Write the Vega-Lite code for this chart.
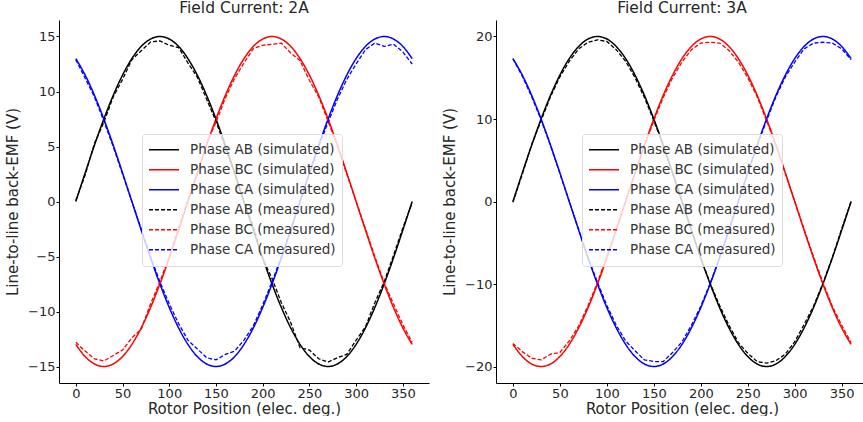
{
  "$schema": "https://vega.github.io/schema/vega-lite/v6.json",
  "padding": {"left": 5, "top": 0, "right": 0, "bottom": 0},
  "spacing": 13,
  "datasets": {
    "lab": [
      {"k": "ab", "label": "Phase AB (simulated)"},
      {"k": "bc", "label": "Phase BC (simulated)"},
      {"k": "ca", "label": "Phase CA (simulated)"},
      {"k": "abm", "label": "Phase AB (measured)"},
      {"k": "bcm", "label": "Phase BC (measured)"},
      {"k": "cam", "label": "Phase CA (measured)"}
    ],
    "a2": [
      {"t": 0, "ab": 0, "bc": -12.99, "ca": 12.99, "abm": 0.1, "bcm": -12.8, "cam": 12.9},
      {"t": 10, "ab": 2.6, "bc": -14.1, "ca": 11.49, "abm": 2.4, "bcm": -13.6, "cam": 11.2},
      {"t": 20, "ab": 5.13, "bc": -14.77, "ca": 9.64, "abm": 5.3, "bcm": -14.3, "cam": 9.5},
      {"t": 30, "ab": 7.5, "bc": -15, "ca": 7.5, "abm": 7.2, "bcm": -14.5, "cam": 7.3},
      {"t": 40, "ab": 9.64, "bc": -14.77, "ca": 5.13, "abm": 9.5, "bcm": -14.0, "cam": 5.0},
      {"t": 50, "ab": 11.49, "bc": -14.1, "ca": 2.6, "abm": 11.1, "bcm": -13.5, "cam": 2.5},
      {"t": 60, "ab": 12.99, "bc": -12.99, "ca": 0, "abm": 12.9, "bcm": -12.4, "cam": 0},
      {"t": 70, "ab": 14.1, "bc": -11.49, "ca": -2.6, "abm": 13.7, "bcm": -11.6, "cam": -2.5},
      {"t": 80, "ab": 14.77, "bc": -9.64, "ca": -5.13, "abm": 14.5, "bcm": -9.3, "cam": -5.0},
      {"t": 90, "ab": 15, "bc": -7.5, "ca": -7.5, "abm": 14.6, "bcm": -7.3, "cam": -7.3},
      {"t": 100, "ab": 14.77, "bc": -5.13, "ca": -9.64, "abm": 14.2, "bcm": -5.0, "cam": -9.3},
      {"t": 110, "ab": 14.1, "bc": -2.6, "ca": -11.49, "abm": 14.0, "bcm": -2.4, "cam": -11.1},
      {"t": 120, "ab": 12.99, "bc": 0, "ca": -12.99, "abm": 12.6, "bcm": 0.2, "cam": -12.6},
      {"t": 130, "ab": 11.49, "bc": 2.6, "ca": -14.1, "abm": 11.3, "bcm": 2.4, "cam": -13.4},
      {"t": 140, "ab": 9.64, "bc": 5.13, "ca": -14.77, "abm": 9.3, "bcm": 5.3, "cam": -14.2},
      {"t": 150, "ab": 7.5, "bc": 7.5, "ca": -15, "abm": 7.3, "bcm": 7.2, "cam": -14.4},
      {"t": 160, "ab": 5.13, "bc": 9.64, "ca": -14.77, "abm": 4.9, "bcm": 9.4, "cam": -13.9},
      {"t": 170, "ab": 2.6, "bc": 11.49, "ca": -14.1, "abm": 2.5, "bcm": 11.2, "cam": -13.6},
      {"t": 180, "ab": 0, "bc": 12.99, "ca": -12.99, "abm": -0.1, "bcm": 12.6, "cam": -12.6},
      {"t": 190, "ab": -2.6, "bc": 14.1, "ca": -11.49, "abm": -2.3, "bcm": 13.9, "cam": -11.3},
      {"t": 200, "ab": -5.13, "bc": 14.77, "ca": -9.64, "abm": -5.2, "bcm": 14.2, "cam": -9.4},
      {"t": 210, "ab": -7.5, "bc": 15, "ca": -7.5, "abm": -7.0, "bcm": 14.3, "cam": -7.3},
      {"t": 220, "ab": -9.64, "bc": 14.77, "ca": -5.13, "abm": -9.2, "bcm": 14.4, "cam": -5.0},
      {"t": 230, "ab": -11.49, "bc": 14.1, "ca": -2.6, "abm": -11.0, "bcm": 13.5, "cam": -2.5},
      {"t": 240, "ab": -12.99, "bc": 12.99, "ca": 0, "abm": -13.3, "bcm": 12.8, "cam": 0.1},
      {"t": 250, "ab": -14.1, "bc": 11.49, "ca": 2.6, "abm": -13.5, "bcm": 11.0, "cam": 2.5},
      {"t": 260, "ab": -14.77, "bc": 9.64, "ca": 5.13, "abm": -14.3, "bcm": 9.5, "cam": 5.0},
      {"t": 270, "ab": -15, "bc": 7.5, "ca": 7.5, "abm": -14.6, "bcm": 7.3, "cam": 7.2},
      {"t": 280, "ab": -14.77, "bc": 5.13, "ca": 9.64, "abm": -14.2, "bcm": 5.0, "cam": 9.3},
      {"t": 290, "ab": -14.1, "bc": 2.6, "ca": 11.49, "abm": -13.9, "bcm": 2.5, "cam": 11.1},
      {"t": 300, "ab": -12.99, "bc": 0, "ca": 12.99, "abm": -12.6, "bcm": 0, "cam": 12.5},
      {"t": 310, "ab": -11.49, "bc": -2.6, "ca": 14.1, "abm": -11.4, "bcm": -2.5, "cam": 13.8},
      {"t": 320, "ab": -9.64, "bc": -5.13, "ca": 14.77, "abm": -9.2, "bcm": -5.0, "cam": 14.4},
      {"t": 330, "ab": -7.5, "bc": -7.5, "ca": 15, "abm": -7.3, "bcm": -7.4, "cam": 14.1},
      {"t": 340, "ab": -5.13, "bc": -9.64, "ca": 14.77, "abm": -4.9, "bcm": -9.3, "cam": 14.3},
      {"t": 350, "ab": -2.6, "bc": -11.49, "ca": 14.1, "abm": -2.4, "bcm": -11.2, "cam": 13.6},
      {"t": 360, "ab": 0, "bc": -12.99, "ca": 12.99, "abm": -0.1, "bcm": -12.8, "cam": 12.5}
    ],
    "a3": [
      {"t": 0, "ab": 0, "bc": -17.32, "ca": 17.32, "abm": -0.1, "bcm": -17.2, "cam": 17.3},
      {"t": 10, "ab": 3.47, "bc": -18.79, "ca": 15.32, "abm": 3.3, "bcm": -18.2, "cam": 15.2},
      {"t": 20, "ab": 6.84, "bc": -19.7, "ca": 12.86, "abm": 6.9, "bcm": -19.0, "cam": 12.7},
      {"t": 30, "ab": 10, "bc": -20, "ca": 10, "abm": 9.8, "bcm": -19.2, "cam": 9.9},
      {"t": 40, "ab": 12.86, "bc": -19.7, "ca": 6.84, "abm": 12.7, "bcm": -18.5, "cam": 6.8},
      {"t": 50, "ab": 15.32, "bc": -18.79, "ca": 3.47, "abm": 15.1, "bcm": -18.3, "cam": 3.4},
      {"t": 60, "ab": 17.32, "bc": -17.32, "ca": 0, "abm": 17.0, "bcm": -16.9, "cam": 0},
      {"t": 70, "ab": 18.79, "bc": -15.32, "ca": -3.47, "abm": 18.5, "bcm": -15.1, "cam": -3.4},
      {"t": 80, "ab": 19.7, "bc": -12.86, "ca": -6.84, "abm": 19.3, "bcm": -12.6, "cam": -6.8},
      {"t": 90, "ab": 20, "bc": -10, "ca": -10, "abm": 19.6, "bcm": -9.8, "cam": -9.8},
      {"t": 100, "ab": 19.7, "bc": -6.84, "ca": -12.86, "abm": 19.4, "bcm": -6.7, "cam": -12.6},
      {"t": 110, "ab": 18.79, "bc": -3.47, "ca": -15.32, "abm": 18.4, "bcm": -3.3, "cam": -15.0},
      {"t": 120, "ab": 17.32, "bc": 0, "ca": -17.32, "abm": 17.0, "bcm": 0.1, "cam": -16.9},
      {"t": 130, "ab": 15.32, "bc": 3.47, "ca": -18.79, "abm": 15.0, "bcm": 3.4, "cam": -18.1},
      {"t": 140, "ab": 12.86, "bc": 6.84, "ca": -19.7, "abm": 12.6, "bcm": 6.7, "cam": -19.2},
      {"t": 150, "ab": 10, "bc": 10, "ca": -20, "abm": 9.8, "bcm": 9.8, "cam": -19.4},
      {"t": 160, "ab": 6.84, "bc": 12.86, "ca": -19.7, "abm": 6.8, "bcm": 12.6, "cam": -19.4},
      {"t": 170, "ab": 3.47, "bc": 15.32, "ca": -18.79, "abm": 3.4, "bcm": 15.0, "cam": -18.3},
      {"t": 180, "ab": 0, "bc": 17.32, "ca": -17.32, "abm": 0, "bcm": 16.9, "cam": -17.0},
      {"t": 190, "ab": -3.47, "bc": 18.79, "ca": -15.32, "abm": -3.4, "bcm": 18.4, "cam": -15.0},
      {"t": 200, "ab": -6.84, "bc": 19.7, "ca": -12.86, "abm": -6.9, "bcm": 19.2, "cam": -12.7},
      {"t": 210, "ab": -10, "bc": 20, "ca": -10, "abm": -9.9, "bcm": 19.3, "cam": -9.9},
      {"t": 220, "ab": -12.86, "bc": 19.7, "ca": -6.84, "abm": -12.6, "bcm": 19.2, "cam": -6.8},
      {"t": 230, "ab": -15.32, "bc": 18.79, "ca": -3.47, "abm": -15.0, "bcm": 18.3, "cam": -3.4},
      {"t": 240, "ab": -17.32, "bc": 17.32, "ca": 0, "abm": -17.1, "bcm": 16.9, "cam": 0},
      {"t": 250, "ab": -18.79, "bc": 15.32, "ca": 3.47, "abm": -18.4, "bcm": 15.0, "cam": 3.4},
      {"t": 260, "ab": -19.7, "bc": 12.86, "ca": 6.84, "abm": -19.4, "bcm": 12.7, "cam": 6.8},
      {"t": 270, "ab": -20, "bc": 10, "ca": 10, "abm": -19.6, "bcm": 9.8, "cam": 9.8},
      {"t": 280, "ab": -19.7, "bc": 6.84, "ca": 12.86, "abm": -19.3, "bcm": 6.8, "cam": 12.7},
      {"t": 290, "ab": -18.79, "bc": 3.47, "ca": 15.32, "abm": -18.5, "bcm": 3.4, "cam": 15.1},
      {"t": 300, "ab": -17.32, "bc": 0, "ca": 17.32, "abm": -17.0, "bcm": 0, "cam": 16.9},
      {"t": 310, "ab": -15.32, "bc": -3.47, "ca": 18.79, "abm": -14.9, "bcm": -3.4, "cam": 18.5},
      {"t": 320, "ab": -12.86, "bc": -6.84, "ca": 19.7, "abm": -12.7, "bcm": -6.7, "cam": 19.2},
      {"t": 330, "ab": -10, "bc": -10, "ca": 20, "abm": -9.9, "bcm": -9.8, "cam": 19.3},
      {"t": 340, "ab": -6.84, "bc": -12.86, "ca": 19.7, "abm": -6.8, "bcm": -12.7, "cam": 19.2},
      {"t": 350, "ab": -3.47, "bc": -15.32, "ca": 18.79, "abm": -3.3, "bcm": -15.0, "cam": 18.5},
      {"t": 360, "ab": 0, "bc": -17.32, "ca": 17.32, "abm": 0, "bcm": -17.1, "cam": 17.2}
    ]
  },
  "hconcat": [
    {
      "width": 370,
      "height": 363,
      "title": "Field Current: 2A",
      "data": {"name": "a2"},
      "transform": [
        {"fold": ["ab", "bc", "ca", "abm", "bcm", "cam"], "as": ["k", "v"]},
        {"lookup": "k", "from": {"data": {"name": "lab"}, "key": "k", "fields": ["label"]}}
      ],
      "encoding": {
        "x": {"field": "t", "type": "quantitative", "scale": {"domain": [-18, 378], "nice": false, "zero": false}, "axis": {"values": [0, 50, 100, 150, 200, 250, 300, 350], "title": "Rotor Position (elec. deg.)"}},
        "y": {"field": "v", "type": "quantitative", "scale": {"domain": [-16.5, 16.5], "nice": false}, "axis": {"values": [-15, -10, -5, 0, 5, 10, 15], "title": "Line-to-line back-EMF (V)"}},
        "color": {"field": "label", "type": "nominal", "scale": {"domain": ["Phase AB (simulated)", "Phase BC (simulated)", "Phase CA (simulated)", "Phase AB (measured)", "Phase BC (measured)", "Phase CA (measured)"], "range": ["#000000", "#ff0000", "#0000ff", "#000000", "#ff0000", "#0000ff"]}, "legend": {"legendX": 83, "legendY": 114}},
        "strokeDash": {"field": "label", "type": "nominal", "scale": {"domain": ["Phase AB (simulated)", "Phase BC (simulated)", "Phase CA (simulated)", "Phase AB (measured)", "Phase BC (measured)", "Phase CA (measured)"], "range": [[1, 0], [1, 0], [1, 0], [4, 2], [4, 2], [4, 2]]}, "legend": {"legendX": 83, "legendY": 114}}
      },
      "layer": [
        {"transform": [{"filter": {"field": "k", "oneOf": ["ab", "bc", "ca"]}}], "mark": {"type": "line", "interpolate": "monotone", "strokeWidth": 1.5}},
        {"transform": [{"filter": {"field": "k", "oneOf": ["abm", "bcm", "cam"]}}], "mark": {"type": "line", "strokeWidth": 1.3}}
      ]
    },
    {
      "width": 372,
      "height": 363,
      "title": "Field Current: 3A",
      "data": {"name": "a3"},
      "transform": [
        {"fold": ["ab", "bc", "ca", "abm", "bcm", "cam"], "as": ["k", "v"]},
        {"lookup": "k", "from": {"data": {"name": "lab"}, "key": "k", "fields": ["label"]}}
      ],
      "encoding": {
        "x": {"field": "t", "type": "quantitative", "scale": {"domain": [-18, 378], "nice": false, "zero": false}, "axis": {"values": [0, 50, 100, 150, 200, 250, 300, 350], "title": "Rotor Position (elec. deg.)"}},
        "y": {"field": "v", "type": "quantitative", "scale": {"domain": [-22, 22], "nice": false}, "axis": {"values": [-20, -10, 0, 10, 20], "title": "Line-to-line back-EMF (V)"}},
        "color": {"field": "label", "type": "nominal", "scale": {"domain": ["Phase AB (simulated)", "Phase BC (simulated)", "Phase CA (simulated)", "Phase AB (measured)", "Phase BC (measured)", "Phase CA (measured)"], "range": ["#000000", "#ff0000", "#0000ff", "#000000", "#ff0000", "#0000ff"]}, "legend": {"legendX": 86, "legendY": 114}},
        "strokeDash": {"field": "label", "type": "nominal", "scale": {"domain": ["Phase AB (simulated)", "Phase BC (simulated)", "Phase CA (simulated)", "Phase AB (measured)", "Phase BC (measured)", "Phase CA (measured)"], "range": [[1, 0], [1, 0], [1, 0], [4, 2], [4, 2], [4, 2]]}, "legend": {"legendX": 86, "legendY": 114}}
      },
      "layer": [
        {"transform": [{"filter": {"field": "k", "oneOf": ["ab", "bc", "ca"]}}], "mark": {"type": "line", "interpolate": "monotone", "strokeWidth": 1.5}},
        {"transform": [{"filter": {"field": "k", "oneOf": ["abm", "bcm", "cam"]}}], "mark": {"type": "line", "strokeWidth": 1.3}}
      ]
    }
  ],
  "resolve": {
    "scale": {"color": "independent", "strokeDash": "independent"},
    "legend": {"color": "independent", "strokeDash": "independent"}
  },
  "config": {
    "font": "DejaVu Sans",
    "view": {"stroke": null},
    "axis": {
      "grid": false,
      "domainColor": "#000000",
      "tickColor": "#000000",
      "tickSize": 3,
      "labelPadding": 1,
      "labelFontSize": 13,
      "labelColor": "#262626",
      "titleFontSize": 15,
      "titleFontWeight": "normal",
      "titleColor": "#262626"
    },
    "axisX": {"titlePadding": 1},
    "axisY": {"titlePadding": 7},
    "title": {"fontSize": 15.5, "fontWeight": "normal", "color": "#262626", "offset": 0},
    "legend": {
      "orient": "none",
      "title": null,
      "symbolType": "stroke",
      "symbolSize": 900,
      "symbolStrokeWidth": 1.5,
      "labelFontSize": 13.5,
      "labelColor": "#333333",
      "labelOffset": 10,
      "rowPadding": 0,
      "clipHeight": 19.4,
      "padding": 6,
      "fillColor": "rgba(255,255,255,0.8)",
      "strokeColor": "#dddddd",
      "cornerRadius": 3
    }
  }
}
